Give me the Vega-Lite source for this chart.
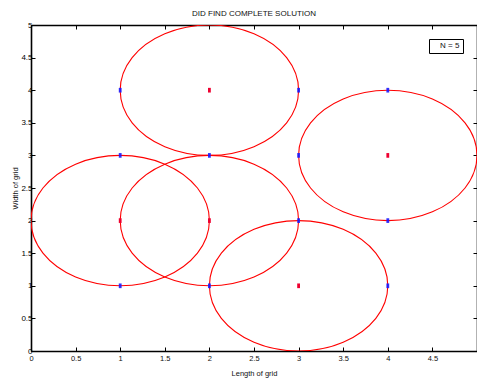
{
  "$schema": "https://vega.github.io/schema/vega-lite/v6.json",
  "autosize": "none",
  "width": 446,
  "height": 326,
  "padding": {"left": 31, "top": 25, "right": 0, "bottom": 30},
  "background": "white",
  "title": {"text": "DID  FIND COMPLETE SOLUTION", "fontSize": 8, "fontWeight": "normal", "color": "#111", "offset": 3, "font": "Liberation Sans"},
  "config": {
    "font": "Liberation Sans",
    "view": {"stroke": null},
    "axis": {"grid": false, "domainColor": "black", "domainWidth": 1.6, "tickColor": "black", "tickWidth": 1, "tickSize": -4, "labelFontSize": 7.5, "labelColor": "#111", "titleFontSize": 7.5, "titleFontWeight": "normal", "titleColor": "#111", "labelOverlap": false, "labelExpr": "'' + datum.value"}
  },
  "datasets": {
    "circles": [
      {"c": "A", "i": 0, "x": 2.0, "y": 2.0}, {"c": "A", "i": 1, "x": 1.866, "y": 2.5}, {"c": "A", "i": 2, "x": 1.5, "y": 2.866}, {"c": "A", "i": 3, "x": 1.0, "y": 3.0}, {"c": "A", "i": 4, "x": 0.5, "y": 2.866}, {"c": "A", "i": 5, "x": 0.134, "y": 2.5}, {"c": "A", "i": 6, "x": 0.0, "y": 2.0}, {"c": "A", "i": 7, "x": 0.134, "y": 1.5}, {"c": "A", "i": 8, "x": 0.5, "y": 1.134}, {"c": "A", "i": 9, "x": 1.0, "y": 1.0}, {"c": "A", "i": 10, "x": 1.5, "y": 1.134}, {"c": "A", "i": 11, "x": 1.866, "y": 1.5},
      {"c": "B", "i": 0, "x": 3.0, "y": 4.0}, {"c": "B", "i": 1, "x": 2.866, "y": 4.5}, {"c": "B", "i": 2, "x": 2.5, "y": 4.866}, {"c": "B", "i": 3, "x": 2.0, "y": 5.0}, {"c": "B", "i": 4, "x": 1.5, "y": 4.866}, {"c": "B", "i": 5, "x": 1.134, "y": 4.5}, {"c": "B", "i": 6, "x": 1.0, "y": 4.0}, {"c": "B", "i": 7, "x": 1.134, "y": 3.5}, {"c": "B", "i": 8, "x": 1.5, "y": 3.134}, {"c": "B", "i": 9, "x": 2.0, "y": 3.0}, {"c": "B", "i": 10, "x": 2.5, "y": 3.134}, {"c": "B", "i": 11, "x": 2.866, "y": 3.5},
      {"c": "C", "i": 0, "x": 3.0, "y": 2.0}, {"c": "C", "i": 1, "x": 2.866, "y": 2.5}, {"c": "C", "i": 2, "x": 2.5, "y": 2.866}, {"c": "C", "i": 3, "x": 2.0, "y": 3.0}, {"c": "C", "i": 4, "x": 1.5, "y": 2.866}, {"c": "C", "i": 5, "x": 1.134, "y": 2.5}, {"c": "C", "i": 6, "x": 1.0, "y": 2.0}, {"c": "C", "i": 7, "x": 1.134, "y": 1.5}, {"c": "C", "i": 8, "x": 1.5, "y": 1.134}, {"c": "C", "i": 9, "x": 2.0, "y": 1.0}, {"c": "C", "i": 10, "x": 2.5, "y": 1.134}, {"c": "C", "i": 11, "x": 2.866, "y": 1.5},
      {"c": "D", "i": 0, "x": 5.0, "y": 3.0}, {"c": "D", "i": 1, "x": 4.866, "y": 3.5}, {"c": "D", "i": 2, "x": 4.5, "y": 3.866}, {"c": "D", "i": 3, "x": 4.0, "y": 4.0}, {"c": "D", "i": 4, "x": 3.5, "y": 3.866}, {"c": "D", "i": 5, "x": 3.134, "y": 3.5}, {"c": "D", "i": 6, "x": 3.0, "y": 3.0}, {"c": "D", "i": 7, "x": 3.134, "y": 2.5}, {"c": "D", "i": 8, "x": 3.5, "y": 2.134}, {"c": "D", "i": 9, "x": 4.0, "y": 2.0}, {"c": "D", "i": 10, "x": 4.5, "y": 2.134}, {"c": "D", "i": 11, "x": 4.866, "y": 2.5},
      {"c": "E", "i": 0, "x": 4.0, "y": 1.0}, {"c": "E", "i": 1, "x": 3.866, "y": 1.5}, {"c": "E", "i": 2, "x": 3.5, "y": 1.866}, {"c": "E", "i": 3, "x": 3.0, "y": 2.0}, {"c": "E", "i": 4, "x": 2.5, "y": 1.866}, {"c": "E", "i": 5, "x": 2.134, "y": 1.5}, {"c": "E", "i": 6, "x": 2.0, "y": 1.0}, {"c": "E", "i": 7, "x": 2.134, "y": 0.5}, {"c": "E", "i": 8, "x": 2.5, "y": 0.134}, {"c": "E", "i": 9, "x": 3.0, "y": 0.0}, {"c": "E", "i": 10, "x": 3.5, "y": 0.134}, {"c": "E", "i": 11, "x": 3.866, "y": 0.5}
    ],
    "grid": [
      {"x": 1, "y": 4}, {"x": 3, "y": 4}, {"x": 4, "y": 4}, {"x": 1, "y": 3}, {"x": 2, "y": 3}, {"x": 3, "y": 3},
      {"x": 3, "y": 2}, {"x": 4, "y": 2}, {"x": 1, "y": 1}, {"x": 2, "y": 1}, {"x": 4, "y": 1}
    ],
    "centers": [
      {"x": 1, "y": 2}, {"x": 2, "y": 4}, {"x": 2, "y": 2}, {"x": 4, "y": 3}, {"x": 3, "y": 1}
    ],
    "legend": [{"label": "N = 5"}]
  },
  "resolve": {"axis": {"x": "independent", "y": "independent"}},
  "layer": [
    {
      "data": {"name": "circles"},
      "mark": {"type": "line", "interpolate": "cardinal-closed", "tension": 0, "color": "#ff0000", "strokeWidth": 1.1, "clip": true},
      "encoding": {
        "x": {"field": "x", "type": "quantitative", "scale": {"domain": [0, 5], "nice": false, "zero": false},
              "axis": {"orient": "bottom", "title": "Length of grid", "values": [0, 0.5, 1, 1.5, 2, 2.5, 3, 3.5, 4, 4.5], "labelPadding": 7, "titlePadding": 8, "labelFlush": false}},
        "y": {"field": "y", "type": "quantitative", "scale": {"domain": [0, 5], "nice": false, "zero": false},
              "axis": {"orient": "left", "title": "Width of grid", "values": [0, 0.5, 1, 1.5, 2, 2.5, 3, 3.5, 4, 4.5, 5], "labelPadding": 3, "labelFontSize": 8, "labelColor": "black", "labelBaseline": "middle", "labelAlign": "right", "titleX": -12, "titleY": 163, "labelFlush": false}},
        "detail": {"field": "c"},
        "order": {"field": "i", "type": "quantitative"}
      }
    },
    {
      "data": {"name": "grid"},
      "mark": {"type": "point", "shape": "M-0.6,-1L0.6,-1L0.6,1L-0.6,1Z", "filled": true, "size": 22, "color": "#1a1aff", "opacity": 0.9},
      "encoding": {
        "x": {"field": "x", "type": "quantitative", "axis": {"orient": "top", "title": null, "labels": false, "values": [0, 0.5, 1, 1.5, 2, 2.5, 3, 3.5, 4, 4.5]}},
        "y": {"field": "y", "type": "quantitative", "axis": {"orient": "right", "title": null, "labels": false, "values": [0, 0.5, 1, 1.5, 2, 2.5, 3, 3.5, 4, 4.5, 5]}}
      }
    },
    {
      "data": {"name": "centers"},
      "mark": {"type": "point", "shape": "M-0.6,-1L0.6,-1L0.6,1L-0.6,1Z", "filled": true, "size": 22, "color": "#ee0030", "opacity": 1},
      "encoding": {
        "x": {"field": "x", "type": "quantitative", "axis": null},
        "y": {"field": "y", "type": "quantitative", "axis": null}
      }
    },
    {
      "data": {"name": "legend"},
      "mark": {"type": "point", "opacity": 0},
      "encoding": {
        "color": {"field": "label", "type": "nominal", "scale": {"range": ["white"]},
                  "legend": {"title": null, "orient": "top-right", "offset": 14, "strokeColor": "black", "fillColor": "white", "padding": 3, "symbolSize": 0, "symbolOpacity": 0, "symbolStrokeWidth": 0, "labelOffset": 0, "labelFontSize": 8, "labelColor": "#111", "labelExpr": "datum.label"}}
      }
    }
  ]
}
